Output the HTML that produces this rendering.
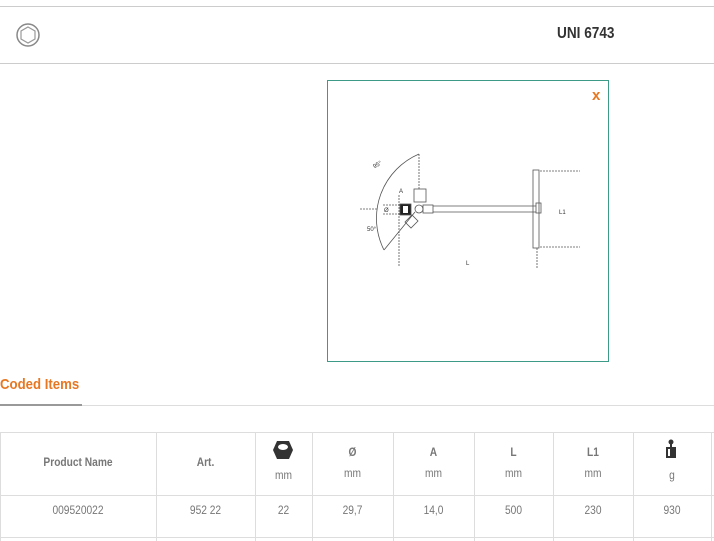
<!DOCTYPE html>
<html><head><meta charset="utf-8"><style>
body{margin:0;width:714px;height:541px;background:#fff;font-family:"Liberation Sans",sans-serif;position:relative;overflow:hidden}
.a{position:absolute}
.hl{position:absolute;left:0;width:714px;height:1px;background:#ccc}
.t{position:absolute;color:#777;font-size:12px;text-align:center;transform:scaleX(.85)}
.v{position:absolute;width:1px;background:#ddd}
</style></head><body>
<div class="hl" style="top:6px"></div>
<div class="hl" style="top:63px"></div>
<svg class="a" style="left:14px;top:22px" width="28" height="26" viewBox="0 0 28 26"><circle cx="14" cy="13" r="11" fill="none" stroke="#888" stroke-width="1.5"/><polygon points="14,5 21,9 21,17 14,21 7,17 7,9" fill="none" stroke="#999" stroke-width="1.2"/></svg>
<div class="a" style="left:557px;top:25px;font-size:16px;font-weight:bold;color:#333;transform:scaleX(.85);transform-origin:left">UNI 6743</div>
<div class="a" style="left:327px;top:80px;width:280px;height:280px;border:1px solid #3d9a86"></div>
<div class="a" style="left:592px;top:87px;color:#e87722;font-weight:bold;font-size:15px">x</div>
<svg class="a" style="left:340px;top:140px" width="250" height="140" viewBox="0 0 250 140" font-size="6" fill="#333">
<g stroke="#555" fill="none" stroke-width="0.8">
<path d="M79 14 A70 70 0 0 0 44 110"/>
<path d="M79 14 V50" stroke-dasharray="2,1"/>
<path d="M44 110 L75 72" />
<path d="M20 69 H38" stroke-dasharray="2,1"/>
<path d="M43 65 H60 M43 74 H60" stroke-dasharray="2,1"/>
<path d="M59 55 V126" stroke-dasharray="2,1"/>
<rect x="74" y="49" width="12" height="13"/>
<rect x="60" y="64" width="11" height="11" fill="#222"/>
<rect x="63" y="66" width="5" height="7" fill="#fff" stroke="none"/>
<circle cx="79" cy="69" r="4"/>
<rect x="83" y="65" width="10" height="8"/>
<path d="M93 66 H196 M93 72 H196"/>
<rect x="196" y="63" width="5" height="10"/>
<rect x="193" y="30" width="6" height="78"/>
<path d="M200 31 H240 M200 107 H240" stroke-dasharray="2,1"/>
<path d="M197 108 V128" stroke-dasharray="2,1"/>
<path d="M65 82 L72 75 L78 81 L71 88Z"/>
</g>
<text x="34" y="27" transform="rotate(-30 37 27)">95°</text>
<text x="27" y="91">50°</text>
<text x="44" y="72">Ø</text>
<text x="59" y="53">A</text>
<text x="126" y="125">L</text>
<text x="219" y="74">L1</text>
</svg>
<div class="a" style="left:0;top:376px;color:#e87722;font-size:15px;font-weight:bold;transform:scaleX(.88);transform-origin:left">Coded Items</div>
<div class="hl" style="top:405px;background:#ddd"></div>
<div class="a" style="left:0;top:404px;width:82px;height:2px;background:#999"></div>
<div class="hl" style="top:432px;background:#ddd"></div>
<div class="hl" style="top:495px;background:#ddd"></div>
<div class="hl" style="top:537px;background:#ddd"></div>
<div class="v" style="left:0;top:432px;height:109px"></div>
<div class="v" style="left:156px;top:432px;height:109px"></div>
<div class="v" style="left:255px;top:432px;height:109px"></div>
<div class="v" style="left:312px;top:432px;height:109px"></div>
<div class="v" style="left:393px;top:432px;height:109px"></div>
<div class="v" style="left:474px;top:432px;height:109px"></div>
<div class="v" style="left:553px;top:432px;height:109px"></div>
<div class="v" style="left:633px;top:432px;height:109px"></div>
<div class="v" style="left:711px;top:432px;height:109px"></div>
<div class="t" style="left:0;width:156px;top:455px;font-weight:bold">Product Name</div>
<div class="t" style="left:156px;width:99px;top:455px;font-weight:bold">Art.</div>
<svg class="a" style="left:272px;top:440px" width="22" height="20" viewBox="0 0 22 20"><polygon points="5,1 17,1 21,10 17,19 5,19 1,10" fill="#333"/><ellipse cx="11" cy="7" rx="5" ry="3" fill="#fff"/></svg>
<div class="t" style="left:255px;width:57px;top:468px">mm</div>
<div class="t" style="left:312px;width:81px;top:445px;font-weight:bold">Ø</div><div class="t" style="left:312px;width:81px;top:466px">mm</div>
<div class="t" style="left:393px;width:81px;top:445px;font-weight:bold">A</div><div class="t" style="left:393px;width:81px;top:466px">mm</div>
<div class="t" style="left:474px;width:79px;top:445px;font-weight:bold">L</div><div class="t" style="left:474px;width:79px;top:466px">mm</div>
<div class="t" style="left:553px;width:80px;top:445px;font-weight:bold">L1</div><div class="t" style="left:553px;width:80px;top:466px">mm</div>
<svg class="a" style="left:665px;top:439px" width="12" height="20" viewBox="0 0 12 20"><circle cx="6" cy="3" r="2.5" fill="#333"/><rect x="5" y="5" width="2" height="3" fill="#333"/><rect x="1" y="8" width="10" height="11" fill="#333"/><rect x="3" y="10" width="2" height="7" fill="#fff"/></svg>
<div class="t" style="left:633px;width:78px;top:468px">g</div>
<div class="t" style="left:0;width:156px;top:503px">009520022</div>
<div class="t" style="left:156px;width:99px;top:503px">952 22</div>
<div class="t" style="left:255px;width:57px;top:503px">22</div>
<div class="t" style="left:312px;width:81px;top:503px">29,7</div>
<div class="t" style="left:393px;width:81px;top:503px">14,0</div>
<div class="t" style="left:474px;width:79px;top:503px">500</div>
<div class="t" style="left:553px;width:80px;top:503px">230</div>
<div class="t" style="left:633px;width:78px;top:503px">930</div>
</body></html>
